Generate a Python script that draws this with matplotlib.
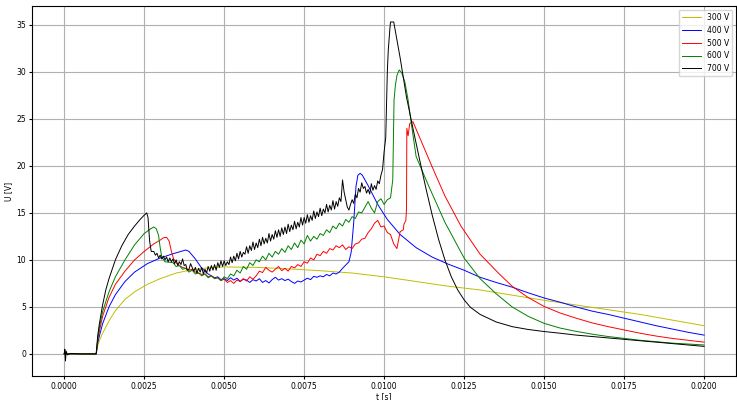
import numpy as np
import matplotlib.pyplot as plt

# Start segment (t <= 0.001) with switching spike on the 700 V trace
t_start = [0.0, 0.00002, 0.00004, 0.00006, 0.0001, 0.0002, 0.0005, 0.001]
u_start = [0.0, 0.5, -0.75, 0.3, -0.1, 0.05, 0.0, 0.0]

# 300 V (smooth)
t_300 = [0.00105, 0.0011, 0.0012, 0.0014, 0.0016, 0.0019, 0.0022, 0.0026, 0.003,
         0.0035, 0.004, 0.0045, 0.005, 0.006, 0.007, 0.008, 0.009, 0.010, 0.011,
         0.012, 0.013, 0.014, 0.015, 0.016, 0.017, 0.018, 0.019, 0.020]
u_300 = [0.9, 1.4, 2.2, 3.5, 4.6, 5.8, 6.6, 7.4, 8.0,
         8.6, 8.95, 9.15, 9.25, 9.2, 9.05, 8.85, 8.6, 8.2, 7.7,
         7.2, 6.8, 6.25, 5.7, 5.2, 4.7, 4.2, 3.6, 3.0]

# 400 V
t_400_rise = [0.00105, 0.0011, 0.0012, 0.0014, 0.0016, 0.0019, 0.0022, 0.0026, 0.003,
              0.0034, 0.0037, 0.0038, 0.0039, 0.0041, 0.0043, 0.0045]
u_400_rise = [1.2, 1.9, 3.2, 5.0, 6.3, 7.7, 8.7, 9.6, 10.2,
              10.65, 10.95, 11.05, 10.9, 10.1, 9.1, 8.5]
u_400_noise = [8.3, 8.1, 8.2, 7.9, 8.0, 7.8, 8.1, 7.85, 8.05, 7.7,
               7.95, 7.85, 7.6, 7.9, 7.75, 8.0, 7.6, 7.8, 7.55, 7.9,
               8.15, 7.85, 8.0, 7.8, 7.95, 7.7, 7.5, 7.75, 7.65, 7.85,
               8.05, 7.9, 8.25, 8.15, 8.3, 8.2, 8.45, 8.3, 8.6, 8.5,
               8.7, 9.1]
t_400_fall = [0.0089, 0.00897, 0.00905, 0.00912, 0.00918, 0.00925, 0.00932, 0.0095,
              0.0098, 0.0101, 0.0105, 0.0110, 0.0115, 0.0120, 0.0125, 0.0130, 0.0135,
              0.0140, 0.0145, 0.0150, 0.0155, 0.0160, 0.0165, 0.0170, 0.0175, 0.0180,
              0.0185, 0.0190, 0.0195, 0.0200]
u_400_fall = [9.8, 10.8, 14.0, 17.8, 19.0, 19.2, 19.0, 17.9,
              15.9, 14.3, 12.7, 11.3, 10.3, 9.55, 8.9, 8.15, 7.6,
              7.1, 6.5, 5.95, 5.5, 5.0, 4.55, 4.2, 3.8, 3.4,
              3.0, 2.65, 2.3, 2.0]

# 500 V
t_500_rise = [0.00105, 0.0011, 0.0012, 0.0014, 0.0016, 0.0019, 0.0022, 0.0025, 0.0028,
              0.003, 0.0031, 0.0032, 0.00328, 0.00335, 0.00342, 0.0035]
u_500_rise = [1.5, 2.4, 4.0, 6.0, 7.4, 8.8, 10.0, 10.9, 11.7,
              12.1, 12.35, 12.4, 12.0, 10.9, 10.1, 9.7]
u_500_noise = [9.4, 9.2, 9.1, 8.9, 9.0, 8.7, 8.6, 8.45, 8.5, 8.2,
               8.3, 8.05, 8.1, 7.8, 7.95, 7.6, 7.8, 7.5, 7.85, 7.7,
               8.0, 7.75, 8.2, 7.95, 8.3, 8.8, 8.65, 9.2, 8.9, 8.7,
               9.0, 9.3, 8.85, 9.1, 8.8, 9.3, 9.15, 9.5, 9.3, 9.8,
               9.65, 10.2, 10.0, 10.6, 10.45, 10.9, 10.7, 11.2, 11.05, 11.5,
               11.3, 11.6, 11.1, 11.4, 11.2, 11.7, 11.8, 12.2, 12.3, 12.9,
               13.3, 13.9, 14.2, 13.5, 13.6, 12.9, 12.7, 11.7, 11.2, 13.0,
               13.2]
t_500_fall = [0.01062, 0.01068, 0.0107, 0.01071, 0.01075, 0.0108, 0.0109, 0.0112,
              0.0115, 0.0119, 0.0124, 0.0130, 0.0136, 0.0140, 0.0145, 0.0150, 0.0155,
              0.0160, 0.0165, 0.0170, 0.0175, 0.0180, 0.0185, 0.0190, 0.0195, 0.0200]
u_500_fall = [13.8, 14.2, 15.5, 24.0, 23.2, 24.5, 24.7, 22.3,
              19.9, 16.8, 13.6, 10.6, 8.5, 7.2, 6.0, 5.05, 4.35,
              3.8, 3.3, 2.9, 2.55, 2.2, 1.9, 1.65, 1.45, 1.25]

# 600 V
t_600_rise = [0.00105, 0.0011, 0.0012, 0.0014, 0.0016, 0.0019, 0.0022, 0.0025, 0.0027,
              0.0028, 0.00288, 0.00295, 0.003, 0.00305, 0.00315]
u_600_rise = [1.7, 2.8, 4.5, 6.6, 8.2, 10.0, 11.6, 12.8, 13.3,
              13.5, 13.3, 12.6, 11.3, 10.3, 9.8]
u_600_noise = [9.7, 9.3, 9.4, 9.0, 9.1, 8.7, 8.9, 8.5, 8.6, 8.3,
               8.5, 8.1, 8.3, 8.0, 8.1, 7.8, 8.2, 8.0, 8.5, 8.3,
               8.9, 8.6, 9.3, 9.0, 9.7, 9.4, 10.0, 9.8, 10.4, 10.0,
               10.7, 10.3, 10.9, 10.6, 11.2, 10.8, 11.5, 11.1, 11.8, 11.3,
               12.1, 11.7, 12.6, 12.0, 12.5, 12.2, 12.8, 12.6, 13.2, 12.9,
               13.6, 13.3, 13.9, 13.6, 14.3, 14.0, 14.6, 14.4, 15.1, 15.0,
               15.6, 16.2, 15.5, 15.0, 16.2, 16.5, 15.9, 16.4, 16.6]
t_600_fall = [0.01027, 0.01031, 0.01035, 0.0104, 0.01047, 0.01055, 0.01065, 0.01075,
              0.01085, 0.0110, 0.0114, 0.0119, 0.0125, 0.0130, 0.0135, 0.0140, 0.0145,
              0.0150, 0.0155, 0.0160, 0.0165, 0.0170, 0.0175, 0.0180, 0.0185, 0.0190,
              0.0195, 0.0200]
u_600_fall = [18.5, 27.0, 28.5, 29.6, 30.2, 29.9, 28.9, 27.0,
              24.5, 21.0, 17.8, 14.0, 10.2, 8.0, 6.4, 5.0, 4.0,
              3.25, 2.75, 2.4, 2.1, 1.85, 1.65, 1.45, 1.3, 1.15,
              1.05, 0.95]

# 700 V
t_700_rise = [0.00105, 0.0011, 0.0012, 0.0013, 0.0014, 0.0016, 0.0018, 0.002, 0.0022,
              0.0024, 0.0025, 0.00258, 0.00262, 0.00267, 0.00272]
u_700_rise = [2.0, 3.2, 5.2, 6.8, 8.0, 10.0, 11.5, 12.7, 13.6,
              14.4, 14.75, 15.0, 14.5, 12.0, 10.9]
# sampled every 0.05 ms from 2.8 ms
u_700_noise = [10.9, 10.5, 10.7, 10.2, 10.5, 10.1, 10.4, 10.0, 10.3, 9.8,
               10.2, 9.8, 10.1, 9.6, 10.0, 9.4, 9.8, 9.5, 10.1, 9.4,
               9.5, 8.9, 9.0, 9.6, 9.2, 8.8, 9.2, 8.6, 9.1, 8.7,
               9.2, 8.5, 9.0, 8.6, 9.3, 8.8, 9.4, 8.9, 9.5, 8.9,
               9.7, 9.2, 9.9, 9.3, 9.9, 9.4, 9.8, 9.5, 10.3, 9.7,
               10.4, 9.9, 10.7, 10.1, 10.9, 10.3, 10.8, 10.6, 11.4, 10.7,
               11.5, 11.0, 11.9, 11.1, 11.8, 11.3, 12.2, 11.5, 12.4, 11.7,
               12.3, 11.8, 12.8, 12.0, 12.7, 12.2, 13.1, 12.4, 13.2, 12.5,
               13.4, 12.7, 13.5, 12.8, 13.8, 13.0, 13.7, 13.2, 14.1, 13.3,
               14.0, 13.5, 14.5, 13.7, 14.5, 13.9, 14.8, 14.0, 14.7, 14.2,
               15.2, 14.4, 15.1, 14.6, 15.5, 14.7, 15.4, 15.0, 15.9, 15.1,
               15.8, 15.3, 16.3, 15.4, 16.2, 15.7, 16.6, 16.2, 18.5, 17.2,
               16.4, 15.6, 15.3, 15.9, 16.4, 16.0, 17.0, 16.6, 17.6, 17.2,
               18.2, 17.6, 17.8, 17.1, 17.5, 17.0, 18.1, 17.4, 17.9, 17.5,
               18.4, 18.1, 19.0, 19.6]
t_700_fall = [0.01, 0.01005, 0.01008, 0.0101, 0.01013, 0.01018, 0.0102, 0.0103,
              0.0105, 0.0107, 0.0109, 0.0111, 0.0113, 0.0115, 0.0117, 0.0119, 0.0121,
              0.0123, 0.0125, 0.0127, 0.0130, 0.0135, 0.0140, 0.0145, 0.0150, 0.0155,
              0.016, 0.0165, 0.017, 0.0175, 0.018, 0.0185, 0.019, 0.0195, 0.020]
u_700_fall = [21.5, 23.0, 27.0, 30.0, 32.3, 34.6, 35.3, 35.3,
              31.5, 27.3, 24.0, 20.8, 17.7, 14.8, 12.2, 10.0, 8.2,
              6.8, 5.75, 4.95, 4.2, 3.4, 2.9, 2.6, 2.38, 2.2,
              2.0, 1.85, 1.7, 1.56, 1.4, 1.25, 1.1, 0.95, 0.8]


def build(parts):
    t = np.concatenate([np.asarray(p[0], float) for p in parts])
    u = np.concatenate([np.asarray(p[1], float) for p in parts])
    return t, u


def grid(t0, values, dt=0.0001):
    # regular measurement samples
    return t0 + dt * np.arange(len(values))


start_flat = ([0.0, 0.0005, 0.001], [0.0, 0.0, 0.0])

curves = {
    "300 V": (build([start_flat, (t_300, u_300)]), "y"),
    "400 V": (build([start_flat, (t_400_rise, u_400_rise),
                     (grid(0.0046, u_400_noise), u_400_noise),
                     (t_400_fall, u_400_fall)]), "b"),
    "500 V": (build([start_flat, (t_500_rise, u_500_rise),
                     (grid(0.0036, u_500_noise), u_500_noise),
                     (t_500_fall, u_500_fall)]), "r"),
    "600 V": (build([start_flat, (t_600_rise, u_600_rise),
                     (grid(0.0034, u_600_noise), u_600_noise),
                     (t_600_fall, u_600_fall)]), "g"),
    "700 V": (build([(t_start, u_start), (t_700_rise, u_700_rise),
                     (grid(0.0028, u_700_noise, 0.00005), u_700_noise),
                     (t_700_fall, u_700_fall)]), "k"),
}

fig = plt.figure(figsize=(7.37, 4.0), dpi=100)
ax = fig.add_axes([0.0437, 0.06, 0.955, 0.925])

for label, ((t, u), c) in curves.items():
    ax.plot(t, u, color=c, linewidth=0.7, label=label)

ax.set_xlim(-0.001, 0.021)
ax.set_ylim(-2.35, 37.0)
ax.set_xticks([0.0, 0.0025, 0.005, 0.0075, 0.01, 0.0125, 0.015, 0.0175, 0.02])
ax.set_xticklabels(["0.0000", "0.0025", "0.0050", "0.0075", "0.0100",
                    "0.0125", "0.0150", "0.0175", "0.0200"])
ax.tick_params(labelsize=5.5, length=2.5, pad=2)
ax.set_xlabel("t [s]", fontsize=5.5, labelpad=0.5)
ax.set_ylabel("U [V]", fontsize=5.5, labelpad=2)
ax.grid(True, color="#b0b0b0", linewidth=0.8)
ax.legend(loc="upper right", fontsize=5.5, handlelength=2.5)

fig.savefig("out.png", dpi=100)
